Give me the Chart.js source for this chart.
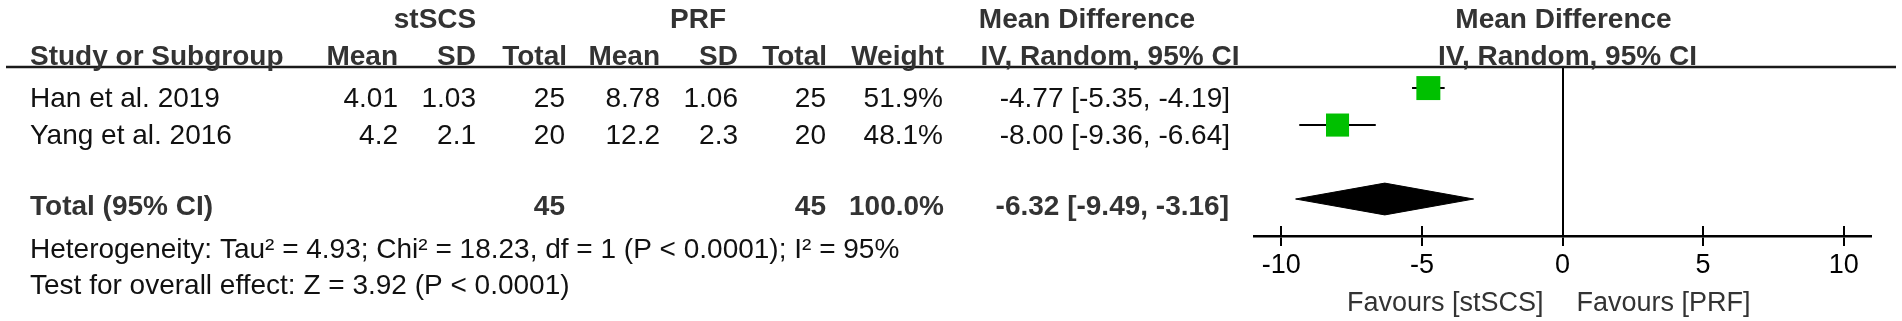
<!DOCTYPE html>
<html>
<head>
<meta charset="utf-8">
<script src="https://cdn.jsdelivr.net/npm/chart.js@4/dist/chart.umd.min.js"></script>
<style>
  html, body { margin: 0; padding: 0; background: #fff; }
  canvas { display: block; }
</style>
</head>
<body>
<canvas id="c" width="1902" height="321"></canvas>
<script>
// ---------------- DATA ----------------
const studies     = ["Han et al. 2019", "Yang et al. 2016"];
const stscsMean   = [4.01, 4.2];
const stscsSD     = [1.03, 2.1];
const stscsTotal  = [25, 20];
const prfMean     = [8.78, 12.2];
const prfSD       = [1.06, 2.3];
const prfTotal    = [25, 20];
const weights     = [51.9, 48.1];
const mdValues    = [-4.77, -8.00];
const ciLower     = [-5.35, -9.36];
const ciUpper     = [-4.19, -6.64];

const totalLabel  = "Total (95% CI)";
const totalStscs  = 45;
const totalPrf    = 45;
const totalWeight = 100.0;
const pooledMD    = [-6.32];
const pooledLower = [-9.49];
const pooledUpper = [-3.16];

const tau2 = 4.93, chi2 = 18.23, hetDf = 1, hetP = "< 0.0001", iSquared = 95;
const zValue = 3.92, overallP = "< 0.0001";

const xTicks = [-10, -5, 0, 5, 10];
const favourLeft  = "Favours [stSCS]";
const favourRight = "Favours [PRF]";

// ---------------- LAYOUT / STYLE ----------------
const FONT = '"Liberation Sans", Arial, Helvetica, sans-serif';
const GREEN = '#00c000';
const totalRow = 3;          // blank row between studies and total
const diamondHalf = 0.43;    // half height of diamond in row units

const fmt2 = v => v.toFixed(2);
const ciText = (m, l, u) => `${fmt2(m)} [${fmt2(l)}, ${fmt2(u)}]`;

// datasets built from the arrays
const whiskerSets = studies.map((s, i) => ({
  type: 'line',
  data: [{x: ciLower[i], y: i}, {x: ciUpper[i], y: i}],
  borderColor: '#000', borderWidth: 2, pointRadius: 0, fill: false, order: 2
}));
const squareSet = {
  type: 'scatter',
  data: mdValues.map((m, i) => ({x: m, y: i})),
  pointStyle: 'rect',
  pointRadius: weights.map(w => Math.sqrt(w) * 3.33 / Math.SQRT2),
  pointHoverRadius: weights.map(w => Math.sqrt(w) * 3.33 / Math.SQRT2),
  backgroundColor: GREEN, borderColor: GREEN, borderWidth: 0, order: 1
};
const diamondSet = {
  type: 'line',
  data: [
    {x: pooledLower[0], y: totalRow},
    {x: pooledMD[0],    y: totalRow - diamondHalf},
    {x: pooledUpper[0], y: totalRow},
    {x: pooledMD[0],    y: totalRow + diamondHalf},
    {x: pooledLower[0], y: totalRow}
  ],
  borderColor: '#000', backgroundColor: '#000', borderWidth: 1,
  pointRadius: 0, fill: 'shape', tension: 0, order: 1
};

// ---------------- TEXT PLUGIN ----------------
const tablePlugin = {
  id: 'tableText',
  beforeDraw(chart) {
    const ctx = chart.ctx;
    ctx.save();
    ctx.fillStyle = '#fff';
    ctx.fillRect(0, 0, chart.width, chart.height);
    ctx.restore();
  },
  afterDraw(chart) {
    const ctx = chart.ctx;
    const xs = chart.scales.x;
    const area = chart.chartArea;
    const zeroX = xs.getPixelForValue(0);
    ctx.save();

    // header underline
    ctx.strokeStyle = '#1a1a1a';
    ctx.lineWidth = 2.5;
    ctx.beginPath();
    ctx.moveTo(6, area.top);
    ctx.lineTo(1896, area.top);
    ctx.stroke();

    // upper halves of tick marks
    ctx.strokeStyle = '#000';
    ctx.lineWidth = 2;
    xs.ticks.forEach(t => {
      const px = Math.round(xs.getPixelForValue(t.value));
      ctx.beginPath();
      ctx.moveTo(px, area.bottom - 10);
      ctx.lineTo(px, area.bottom);
      ctx.stroke();
    });

    const put = (txt, x, y, align, bold, color, size) => {
      ctx.font = `${bold ? 'bold ' : ''}${size || 28}px ${FONT}`;
      ctx.fillStyle = color || '#000';
      ctx.textAlign = align;
      ctx.textBaseline = 'alphabetic';
      ctx.fillText(txt, x, y);
    };
    const HB = '#333';

    // header row 1
    put('stSCS', 435, 28, 'center', true, HB);
    put('PRF', 698, 28, 'center', true, HB);
    put('Mean Difference', 1087, 28, 'center', true, HB);
    put('Mean Difference', zeroX + 1, 28, 'center', true, HB);

    // header row 2
    const h2 = 65;
    put('Study or Subgroup', 30, h2, 'left', true, HB);
    put('Mean', 398, h2, 'right', true, HB);
    put('SD', 476, h2, 'right', true, HB);
    put('Total', 567, h2, 'right', true, HB);
    put('Mean', 660, h2, 'right', true, HB);
    put('SD', 738, h2, 'right', true, HB);
    put('Total', 827, h2, 'right', true, HB);
    put('Weight', 944, h2, 'right', true, HB);
    put('IV, Random, 95% CI', 1110, h2, 'center', true, HB);
    put('IV, Random, 95% CI', zeroX + 5, h2, 'center', true, HB);

    // study rows
    const rowBase = [107, 144];
    studies.forEach((s, i) => {
      const y = rowBase[i];
      put(s, 30, y, 'left', false, '#111');
      put(String(stscsMean[i]), 398, y, 'right', false, '#111');
      put(String(stscsSD[i]), 476, y, 'right', false, '#111');
      put(String(stscsTotal[i]), 565, y, 'right', false, '#111');
      put(String(prfMean[i]), 660, y, 'right', false, '#111');
      put(String(prfSD[i]), 738, y, 'right', false, '#111');
      put(String(prfTotal[i]), 826, y, 'right', false, '#111');
      put(weights[i].toFixed(1) + '%', 943, y, 'right', false, '#111');
      put(ciText(mdValues[i], ciLower[i], ciUpper[i]), 1230, y, 'right', false, '#111');
    });

    // total row
    const ty = 215;
    put(totalLabel, 30, ty, 'left', true, HB);
    put(String(totalStscs), 565, ty, 'right', true, HB);
    put(String(totalPrf), 826, ty, 'right', true, HB);
    put(totalWeight.toFixed(1) + '%', 944, ty, 'right', true, HB);
    put(ciText(pooledMD[0], pooledLower[0], pooledUpper[0]), 1229, ty, 'right', true, HB);

    // heterogeneity / overall effect
    put(`Heterogeneity: Tau\u00B2 = ${tau2.toFixed(2)}; Chi\u00B2 = ${chi2.toFixed(2)}, df = ${hetDf} (P ${hetP}); I\u00B2 = ${iSquared}%`, 30, 258, 'left', false, '#111');
    put(`Test for overall effect: Z = ${zValue.toFixed(2)} (P ${overallP})`, 30, 294, 'left', false, '#111');

    // favours labels
    put(favourLeft, zeroX - 19, 311, 'right', false, '#333', 27);
    put(favourRight, zeroX + 14, 311, 'left', false, '#333', 27);

    ctx.restore();
  }
};

// ---------------- CHART ----------------
new Chart(document.getElementById('c'), {
  type: 'scatter',
  data: { datasets: [...whiskerSets, squareSet, diamondSet] },
  options: {
    responsive: false,
    devicePixelRatio: 1,
    animation: false,
    events: [],
    layout: { padding: { left: 1254, right: 31, top: 67, bottom: 0 } },
    plugins: { legend: { display: false }, tooltip: { enabled: false } },
    scales: {
      x: {
        type: 'linear',
        position: 'bottom',
        min: -10.97,
        max: 10.97,
        afterBuildTicks: s => { s.ticks = xTicks.map(v => ({ value: v })); },
        afterFit: s => { s.height = 85; },
        ticks: {
          callback: v => String(v),
          color: '#000',
          padding: 3,
          maxRotation: 0,
          autoSkip: false,
          font: { family: FONT, size: 27 }
        },
        grid: {
          drawOnChartArea: true,
          color: c => (c.tick && c.tick.value === 0) ? '#000' : 'rgba(0,0,0,0)',
          lineWidth: 2,
          tickColor: '#000',
          tickWidth: 2,
          tickLength: 10
        },
        border: { display: true, color: '#000', width: 2.5 }
      },
      y: {
        type: 'linear',
        display: false,
        reverse: true,
        min: -0.57,
        max: 4
      }
    }
  },
  plugins: [tablePlugin]
});
</script>
</body>
</html>
